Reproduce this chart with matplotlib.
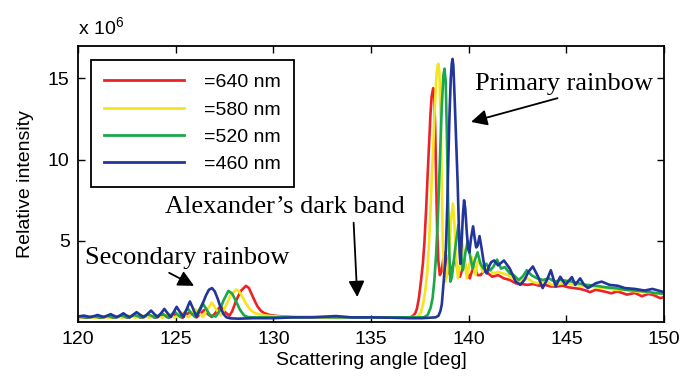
import matplotlib
matplotlib.use("Agg")
import matplotlib.pyplot as plt

plt.rcParams['font.family'] = ['Liberation Sans', 'DejaVu Sans']
plt.rcParams['mathtext.fontset'] = 'custom'
plt.rcParams['mathtext.rm'] = 'Liberation Sans'
plt.rcParams['mathtext.it'] = 'Liberation Sans'

labels = ["=640 nm", "=580 nm", "=520 nm", "=460 nm"]
colors = ["#ec2227", "#f6e41e", "#1aa84a", "#22359a"]

# (scattering angle [deg], relative intensity [x1e6])
red_pts = [
    (120.0, 0.34), (120.45, 0.28), (120.8, 0.35), (121.15, 0.28), (121.5, 0.36), (121.85, 0.28),
    (122.2, 0.38), (122.55, 0.28), (122.9, 0.4), (123.25, 0.28), (123.6, 0.42), (123.95, 0.28),
    (124.3, 0.45), (124.65, 0.28), (125.0, 0.5), (125.35, 0.28), (125.52, 0.45), (125.7, 0.6),
    (125.9, 0.45), (126.07, 0.3), (126.25, 0.5), (126.45, 0.75), (126.65, 0.5), (126.85, 0.32),
    (127.05, 0.6), (127.3, 1.0), (127.5, 0.65), (127.75, 0.4), (127.9, 0.7), (128.05, 1.2),
    (128.2, 1.6), (128.35, 1.95), (128.6, 2.24), (128.75, 2.1), (128.9, 1.7), (129.05, 1.3),
    (129.2, 0.95), (129.35, 0.72), (129.5, 0.58), (129.8, 0.45), (130.2, 0.38),
    (131.0, 0.32), (132.0, 0.3), (133.0, 0.32), (134.0, 0.3), (135.0, 0.3), (136.0, 0.3),
    (137.0, 0.3), (137.15, 0.4), (137.26, 0.55), (137.35, 0.85), (137.45, 1.5), (137.56, 2.6),
    (137.65, 3.6), (137.73, 4.9), (137.82, 7.0), (137.9, 9.2), (137.97, 11.0), (138.04, 12.8),
    (138.1, 13.9), (138.18, 14.4), (138.23, 14.0), (138.28, 12.0), (138.33, 8.8), (138.38, 5.8),
    (138.44, 3.8), (138.52, 2.9), (138.6, 3.1), (138.7, 3.9), (138.8, 4.3), (138.9, 3.7),
    (139.0, 3.0), (139.08, 2.9), (139.18, 3.5), (139.3, 3.9), (139.42, 3.3), (139.55, 2.8),
    (139.68, 3.3), (139.8, 3.6), (139.92, 3.1), (140.05, 2.7), (140.18, 3.2), (140.3, 3.4),
    (140.45, 2.9), (140.6, 2.9), (140.8, 3.2), (141.0, 3.0), (141.2, 2.8), (141.5, 2.9),
    (141.8, 2.7), (142.1, 2.6), (142.4, 2.4), (142.7, 2.35), (143.0, 2.3), (143.3, 2.35),
    (143.6, 2.25), (143.9, 2.3), (144.2, 2.2), (144.5, 2.2), (144.8, 2.25), (145.1, 2.15),
    (145.4, 2.1), (145.7, 2.05), (146.0, 1.95), (146.2, 1.85), (146.5, 2.0), (146.9, 1.9),
    (147.3, 1.78), (147.6, 1.9), (148.1, 1.7), (148.5, 1.8), (148.86, 1.6), (149.2, 1.75),
    (149.5, 1.65), (149.8, 1.48), (150.0, 1.55),
]

yellow_pts = [
    (120.0, 0.3), (120.5, 0.35), (120.85, 0.28), (121.2, 0.36), (121.55, 0.28), (121.9, 0.38),
    (122.25, 0.28), (122.6, 0.4), (122.95, 0.28), (123.3, 0.42), (123.65, 0.28), (124.0, 0.45),
    (124.32, 0.28), (124.65, 0.5), (124.97, 0.28), (125.15, 0.45), (125.3, 0.6), (125.47, 0.42),
    (125.65, 0.3), (125.82, 0.55), (125.99, 0.8), (126.2, 0.55), (126.4, 0.33), (126.62, 0.8),
    (126.85, 1.2), (127.07, 0.8), (127.3, 0.42), (127.45, 0.7), (127.6, 1.1), (127.85, 1.75),
    (128.1, 2.0), (128.25, 1.9), (128.4, 1.6), (128.6, 1.15), (128.8, 0.8), (129.0, 0.6),
    (129.2, 0.5), (129.7, 0.4), (130.2, 0.35), (131.0, 0.3),
    (132.0, 0.3), (133.0, 0.3), (134.0, 0.3), (135.0, 0.3), (136.0, 0.3), (137.0, 0.3),
    (137.4, 0.35), (137.55, 0.6), (137.68, 1.2), (137.78, 2.0), (137.87, 3.0), (137.95, 4.5),
    (138.03, 6.5), (138.11, 9.0), (138.19, 11.0), (138.27, 13.5), (138.35, 15.2), (138.41, 15.8),
    (138.45, 15.9), (138.5, 15.3), (138.57, 12.0), (138.62, 8.5), (138.67, 5.0), (138.73, 3.2),
    (138.8, 2.5), (138.88, 2.8), (139.0, 4.3), (139.1, 6.4), (139.19, 7.3), (139.27, 6.0),
    (139.35, 4.0), (139.45, 2.7), (139.57, 3.8), (139.68, 4.8), (139.8, 3.8), (139.9, 2.7),
    (140.02, 3.5), (140.15, 4.0), (140.25, 3.5), (140.35, 2.9), (140.45, 3.7), (140.55, 3.8),
    (140.7, 3.1), (140.85, 3.3), (141.0, 3.3), (141.25, 3.0), (141.5, 3.1), (141.75, 3.0),
    (142.0, 2.9), (142.25, 2.7), (142.46, 2.5), (142.7, 2.6), (143.0, 2.7), (143.25, 2.5),
    (143.5, 2.4), (143.75, 2.5), (144.0, 2.5), (144.25, 2.3), (144.5, 2.3), (144.75, 2.4),
    (145.0, 2.4), (145.5, 2.3), (146.0, 2.2), (146.5, 2.15), (147.0, 2.1), (147.5, 2.0),
    (148.0, 2.0), (148.5, 1.9), (149.0, 1.85), (149.5, 1.8), (150.0, 1.75),
]

green_pts = [
    (120.0, 0.3), (120.1, 0.35), (120.45, 0.28), (120.8, 0.38), (121.15, 0.28), (121.5, 0.4),
    (121.85, 0.28), (122.2, 0.42), (122.55, 0.28), (122.9, 0.45), (123.25, 0.28), (123.6, 0.5),
    (123.95, 0.28), (124.3, 0.55), (124.62, 0.28), (124.8, 0.47), (124.95, 0.65), (125.12, 0.45),
    (125.28, 0.3), (125.45, 0.58), (125.62, 0.85), (125.8, 0.55), (126.0, 0.32), (126.2, 0.75),
    (126.38, 1.17), (126.57, 0.8), (126.75, 0.45), (127.05, 0.35), (127.25, 0.7), (127.45, 1.35),
    (127.7, 1.93), (127.9, 1.75), (128.1, 1.25), (128.3, 0.75), (128.5, 0.42), (128.7, 0.32),
    (129.0, 0.3), (130.0, 0.3), (131.0, 0.3),
    (132.0, 0.32), (133.0, 0.3), (134.0, 0.3), (135.0, 0.3), (136.0, 0.3), (137.0, 0.3),
    (137.7, 0.3), (137.9, 0.45), (138.05, 0.9), (138.15, 1.5), (138.24, 2.6), (138.33, 4.2),
    (138.42, 6.5), (138.48, 8.5), (138.54, 10.6), (138.62, 13.3), (138.7, 15.2), (138.76, 15.6),
    (138.82, 14.8), (138.88, 11.5), (138.94, 7.5), (139.0, 4.4), (139.06, 2.5), (139.14, 2.8),
    (139.3, 4.5), (139.47, 6.0), (139.58, 4.5), (139.7, 3.2), (139.83, 4.3), (139.95, 5.0),
    (140.08, 4.0), (140.2, 3.3), (140.33, 3.9), (140.45, 4.3), (140.6, 3.6), (140.75, 3.3),
    (140.9, 3.6), (141.1, 3.2), (141.25, 3.4), (141.45, 3.85), (141.65, 3.3), (141.85, 3.4),
    (142.1, 3.0), (142.3, 2.9), (142.55, 2.6), (142.75, 2.8), (142.97, 3.2), (143.2, 2.9),
    (143.5, 2.7), (143.8, 2.6), (144.1, 2.7), (144.4, 2.5), (144.7, 2.6), (145.0, 2.55),
    (145.3, 2.5), (145.6, 2.4), (146.0, 2.3), (146.5, 2.25), (147.0, 2.15), (147.5, 2.1),
    (148.0, 2.0), (148.5, 1.95), (149.0, 1.9), (149.5, 1.8), (150.0, 1.75),
]

blue_pts = [
    (120.0, 0.36), (120.15, 0.38), (120.3, 0.41), (120.47, 0.36), (120.65, 0.31), (120.82, 0.37),
    (121.0, 0.45), (121.17, 0.38), (121.33, 0.31), (121.5, 0.4), (121.67, 0.5), (121.83, 0.4),
    (122.0, 0.31), (122.16, 0.42), (122.32, 0.55), (122.48, 0.42), (122.65, 0.31), (122.82, 0.46),
    (123.0, 0.62), (123.18, 0.46), (123.37, 0.31), (123.55, 0.5), (123.74, 0.72), (123.91, 0.5),
    (124.08, 0.31), (124.25, 0.55), (124.42, 0.82), (124.58, 0.56), (124.75, 0.32), (124.9, 0.62),
    (125.05, 0.95), (125.22, 0.62), (125.4, 0.32), (125.56, 0.8), (125.73, 1.28), (125.9, 0.8),
    (126.07, 0.33), (126.3, 0.9), (126.55, 1.65), (126.7, 2.0), (126.86, 2.1), (127.0, 1.9),
    (127.15, 1.45), (127.3, 0.9), (127.45, 0.5), (127.6, 0.3), (127.8, 0.24), (128.2, 0.22),
    (129.0, 0.25), (130.0, 0.25), (131.0, 0.3), (132.0, 0.3), (133.2, 0.38), (134.0, 0.3),
    (135.0, 0.3), (136.0, 0.28), (137.0, 0.25), (137.6, 0.25), (138.0, 0.28), (138.3, 0.3),
    (138.45, 0.4), (138.55, 0.7), (138.62, 1.1), (138.7, 2.3), (138.77, 3.3), (138.83, 4.5),
    (138.9, 7.2), (138.96, 10.3), (139.02, 13.0), (139.08, 15.0), (139.13, 15.9), (139.17, 16.2),
    (139.21, 15.8), (139.27, 14.0), (139.33, 12.0), (139.38, 10.4), (139.43, 8.6), (139.48, 6.4),
    (139.53, 4.3), (139.57, 3.6), (139.63, 4.8), (139.7, 6.6), (139.76, 7.5), (139.82, 7.0),
    (139.9, 5.5), (139.97, 4.5), (140.03, 4.3), (140.12, 5.2), (140.22, 5.9), (140.3, 5.2),
    (140.38, 4.6), (140.45, 4.7), (140.55, 5.3), (140.65, 4.6), (140.75, 3.8), (140.85, 3.1),
    (140.93, 3.0), (141.02, 3.4), (141.15, 3.7), (141.3, 3.8), (141.5, 3.5), (141.8, 3.8),
    (142.1, 3.3), (142.4, 2.5), (142.63, 2.3), (142.85, 2.6), (143.05, 3.1), (143.28, 3.43),
    (143.55, 2.8), (143.78, 2.1), (144.0, 2.6), (144.2, 3.2), (144.45, 2.2), (144.68, 2.8),
    (144.95, 2.3), (145.28, 2.78), (145.45, 2.3), (145.7, 2.7), (145.9, 2.3), (146.1, 2.1),
    (146.5, 2.4), (146.8, 2.5), (147.2, 2.3), (147.6, 2.25), (148.0, 2.1), (148.5, 2.05),
    (149.0, 1.95), (149.4, 2.05), (149.7, 1.95), (150.0, 1.85),
]

series = [red_pts, yellow_pts, green_pts, blue_pts]

x_ticks = [120, 125, 130, 135, 140, 145, 150]
y_ticks = [5, 10, 15]

fig = plt.figure(figsize=(6.84, 3.85), dpi=100)
ax = fig.add_axes([0.114, 0.163, 0.857, 0.7177])

for pts, col, lab in zip(series, colors, labels):
    xs = [p[0] for p in pts]
    ys = [p[1] for p in pts]
    ax.plot(xs, ys, color=col, lw=1.9, label=lab, solid_joinstyle='round')

ax.set_xlim(120, 150)
ax.set_ylim(0, 17)
ax.set_xticks(x_ticks)
ax.set_yticks(y_ticks)
ax.tick_params(direction='in', length=5, width=1.0, top=True, right=True, labelsize=14, pad=6)
for s in ax.spines.values():
    s.set_linewidth(1.3)

ax.set_xlabel("Scattering angle [deg]", fontsize=14, labelpad=3)
ax.set_ylabel("Relative intensity", fontsize=14, labelpad=10)
ax.text(0.0, 1.03, r"x 10$^{6}$", transform=ax.transAxes, fontsize=14, ha='left', va='bottom')

leg = ax.legend(loc='upper left', bbox_to_anchor=(0.022, 0.949), borderaxespad=0,
                fontsize=14, handlelength=4.1, handletextpad=1.0, labelspacing=0.5,
                borderpad=0.7, fancybox=False, framealpha=1, edgecolor='black')
leg.get_frame().set_linewidth(1.3)
for line in leg.get_lines():
    line.set_linewidth(2.0)

serif = ['Liberation Serif', 'DejaVu Serif']
ax.text(144.86, 14.65, "Primary rainbow", family=serif, fontsize=19, ha='center', va='center')
ax.annotate("", xy=(139.98, 12.28), xytext=(144.68, 13.83),
            arrowprops=dict(arrowstyle='-|>', color='black', lw=1.3, mutation_scale=24))
ax.text(130.6, 7.12, "Alexander\u2019s dark band", family=serif, fontsize=19, ha='center', va='center')
ax.annotate("", xy=(134.3, 1.38), xytext=(134.1, 6.3),
            arrowprops=dict(arrowstyle='-|>', color='black', lw=1.3, mutation_scale=24))
ax.text(125.58, 3.97, "Secondary rainbow", family=serif, fontsize=19, ha='center', va='center')
ax.annotate("", xy=(126.07, 2.16), xytext=(124.54, 3.12),
            arrowprops=dict(arrowstyle='-|>', color='black', lw=1.3, mutation_scale=24))

fig.savefig("out.png", dpi=100)
